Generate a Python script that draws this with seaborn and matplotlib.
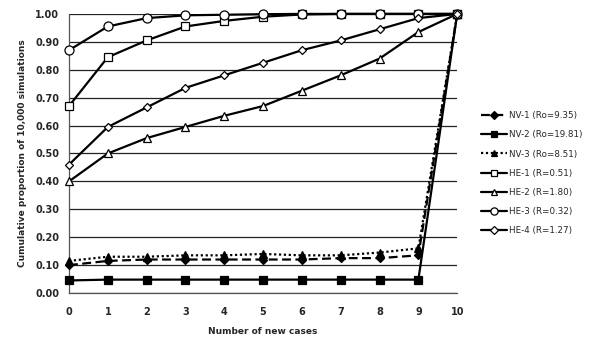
import numpy as np
import pandas as pd
import matplotlib
matplotlib.use('Agg')
import matplotlib.pyplot as plt
import seaborn as sns

#------------------------------------------
cases = list(range(11))

nv1 = [0.100, 0.115, 0.120, 0.120, 0.120, 0.120, 0.120, 0.125, 0.125, 0.135, 1.0]
nv2 = [0.045, 0.048, 0.048, 0.048, 0.048, 0.048, 0.048, 0.048, 0.048, 0.048, 1.0]
nv3 = [0.115, 0.130, 0.130, 0.135, 0.135, 0.140, 0.135, 0.135, 0.145, 0.160, 1.0]
he1 = [0.670, 0.845, 0.905, 0.955, 0.975, 0.990, 0.998, 1.0, 1.0, 1.0, 1.0]
he2 = [0.400, 0.500, 0.555, 0.595, 0.635, 0.670, 0.725, 0.780, 0.840, 0.935, 1.0]
he3 = [0.870, 0.955, 0.985, 0.995, 0.997, 0.999, 1.0, 1.0, 1.0, 1.0, 1.0]
he4 = [0.460, 0.595, 0.665, 0.735, 0.780, 0.825, 0.870, 0.905, 0.945, 0.985, 1.0]

names = ['NV-1 (Ro=9.35)', 'NV-2 (Ro=19.81)', 'NV-3 (Ro=8.51)',
         'HE-1 (R=0.51)', 'HE-2 (R=1.80)', 'HE-3 (R=0.32)', 'HE-4 (R=1.27)']
values = [nv1, nv2, nv3, he1, he2, he3, he4]

# style per series: marker, linestyle, marker face, marker size
styles = {
    names[0]: dict(marker='D', ls=(0, (4, 2)), mfc='black', ms=4.5),
    names[1]: dict(marker='s', ls='-', mfc='black', ms=5.5),
    names[2]: dict(marker='^', ls=(0, (1, 1.2)), mfc='black', ms=5.5),
    names[3]: dict(marker='s', ls='-', mfc='white', ms=6.2),
    names[4]: dict(marker='^', ls='-', mfc='white', ms=6.2),
    names[5]: dict(marker='o', ls='-', mfc='white', ms=6.5),
    names[6]: dict(marker='D', ls='-', mfc='white', ms=4.5),
}

df = pd.DataFrame({'cases': np.tile(cases, len(names)),
                   'value': np.concatenate(values),
                   'series': np.repeat(names, len(cases))})

######################################################
sns.set_style('white')
plt.rcParams['font.family'] = ['DejaVu Sans']

fig = plt.figure(figsize=(6, 3.48), dpi=100)
ax = fig.add_axes([0.115, 0.158, 0.647, 0.802])

for nm in names:
    st = styles[nm]
    sns.lineplot(data=df[df.series == nm], x='cases', y='value', ax=ax,
                 color='black', lw=1.6, linestyle=st['ls'], marker=st['marker'],
                 markersize=st['ms'], markerfacecolor=st['mfc'],
                 markeredgecolor='black', markeredgewidth=0.9, label=nm,
                 clip_on=False, zorder=3)

#adjust
ax.set_xlim(0, 10)
ax.set_ylim(0, 1.0)
ax.set_xticks(cases)
ax.set_yticks(np.arange(0, 1.01, 0.1))
ax.set_yticklabels([f'{v:.2f}' for v in np.arange(0, 1.01, 0.1)])
ax.yaxis.grid(True, color='#222222', lw=0.9)
ax.set_axisbelow(True)
for s in ['top', 'right']:
    ax.spines[s].set_visible(False)
for s in ['left', 'bottom']:
    ax.spines[s].set_color('#555555')
    ax.spines[s].set_linewidth(0.9)
ax.tick_params(axis='x', direction='inout', length=8, width=0.9, color='#555555',
               labelsize=7, pad=6)
ax.tick_params(axis='y', direction='out', length=4, width=0.9, color='#555555',
               labelsize=7, pad=3)
for lab in ax.get_xticklabels() + ax.get_yticklabels():
    lab.set_fontweight('bold')
ax.set_xlabel('Number of new cases', fontsize=6.5, weight='bold', labelpad=7)
ax.set_ylabel('Cumulative proportion of 10,000 simulations', fontsize=6.5,
              weight='bold', labelpad=6)

ax.legend(loc='upper left', bbox_to_anchor=(0.795, 0.69),
          bbox_transform=fig.transFigure, frameon=False, fontsize=6.3,
          handlelength=3.0, handletextpad=0.3, labelspacing=1.15,
          markerscale=0.8, borderaxespad=0)

#save
plt.savefig('out.png', dpi=100)
plt.close()
